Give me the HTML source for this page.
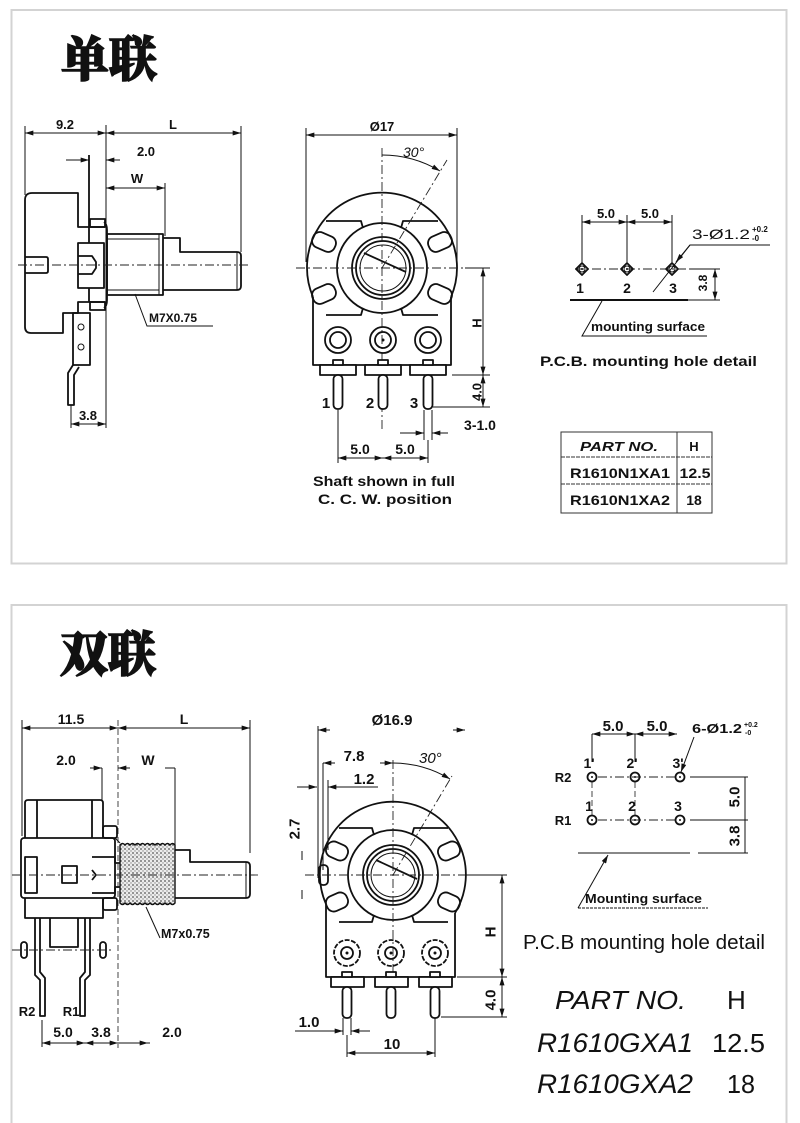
<!DOCTYPE html>
<html><head><meta charset="utf-8"><title>R1610 potentiometer drawing</title>
<style>
html,body{margin:0;padding:0;background:#fff;width:800px;height:1123px;overflow:hidden}
svg{display:block}
text{font-family:"Liberation Sans",Arial,sans-serif;fill:#111}
.b{font-weight:bold}
.i{font-style:italic}
.m{text-anchor:middle}
.o{fill:none;stroke:#111;stroke-width:1.8;stroke-linejoin:round}
.f{fill:#fff;stroke:#111;stroke-width:1.8;stroke-linejoin:round}
.d{fill:none;stroke:#111;stroke-width:1}
.c{fill:none;stroke:#222;stroke-width:0.9;stroke-dasharray:9 3 2 3}
.h{fill:none;stroke:#333;stroke-width:0.9;stroke-dasharray:6 3}
.ar{marker-start:url(#a);marker-end:url(#a)}
.ae{marker-end:url(#a)}
.cj{font-family:"Noto Serif CJK SC","Noto Sans CJK SC",serif;font-weight:900;stroke:#111;stroke-width:1.6;paint-order:stroke}
</style></head><body>
<svg width="800" height="1123" viewBox="0 0 800 1123" xmlns="http://www.w3.org/2000/svg">
<defs>
<marker id="a" viewBox="0 0 10 6" refX="10" refY="3" markerWidth="9" markerHeight="5" markerUnits="userSpaceOnUse" orient="auto-start-reverse"><path d="M0,0L10,3L0,6z" fill="#111"/></marker>
<pattern id="st" width="4" height="4" patternUnits="userSpaceOnUse"><rect width="4" height="4" fill="#ececec"/><circle cx="1" cy="1" r="0.9" fill="#555"/><circle cx="3" cy="3" r="0.7" fill="#888"/></pattern>
</defs>

<!-- panels -->
<rect x="11.5" y="10" width="775" height="553.5" fill="none" stroke="#d3d3d3" stroke-width="2"/>
<path d="M11.5,1130 L11.5,605 L786.5,605 L786.5,1130" fill="none" stroke="#d3d3d3" stroke-width="2"/>

<!-- ================= TOP: 单联 ================= -->
<text x="61" y="76" font-size="48" class="cj">单联</text>

<!-- side view -->
<line x1="25" y1="133" x2="106" y2="133" class="d ar"/>
<line x1="106" y1="133" x2="241" y2="133" class="d ar"/>
<text x="65" y="129" font-size="13" class="b m">9.2</text>
<text x="173" y="129" font-size="13" class="b m">L</text>
<line x1="25" y1="126" x2="25" y2="195" class="d"/>
<line x1="106" y1="125" x2="106" y2="428" class="d"/>
<line x1="241" y1="126" x2="241" y2="252" class="d"/>
<line x1="66" y1="160" x2="89" y2="160" class="d ae"/>
<line x1="120" y1="160" x2="106" y2="160" class="d ae"/>
<text x="146" y="156" font-size="13" class="b m">2.0</text>
<line x1="89" y1="155" x2="89" y2="227" class="o"/>
<line x1="106" y1="188" x2="165" y2="188" class="d ar"/>
<text x="137" y="183" font-size="13" class="b m">W</text>
<line x1="165" y1="183" x2="165" y2="236" class="d"/>

<path class="o" d="M32,193 L78,193 L78,227 L105,227 M32,193 Q25,193 25,200 L25,327 Q25,333 31,333 L63,333 L63,313 L78,313 L78,302 L105,302"/>
<path class="o" d="M25,257 L46,257 Q48,257 48,259 L48,271 Q48,273 46,273 L25,273"/>
<rect x="78" y="243" width="26" height="45" class="o"/>
<path class="o" d="M78,256 L92,256 L96,262 L96,268 L92,274 L78,274"/>
<line x1="89" y1="227" x2="89" y2="243" class="o"/>
<line x1="89" y1="288" x2="89" y2="302" class="o"/>
<path class="o" d="M104,222 Q107,224 107,230 L107,300 Q107,306 104,308"/>
<rect x="90" y="219" width="15" height="8" class="o"/>
<rect x="90" y="302" width="15" height="8" class="o"/>
<rect x="107" y="234" width="56" height="61" class="o"/>
<line x1="107" y1="239" x2="159" y2="239" class="d"/>
<line x1="107" y1="290" x2="159" y2="290" class="d"/>
<line x1="159" y1="234" x2="159" y2="295" class="d"/>
<path class="o" d="M163,238 L180,238 L180,252 L237,252 Q241,252 241,256 L241,286 Q241,290 237,290 L163,290"/>
<line x1="237" y1="252" x2="237" y2="290" class="d"/>
<rect x="73" y="313" width="17" height="52" class="o"/>
<circle cx="81" cy="327" r="3" class="d"/>
<circle cx="81" cy="347" r="3" class="d"/>
<path class="o" d="M73,365 L68,373 L68,405 L74,405 L74,375 L79,367"/>
<line x1="18" y1="265" x2="248" y2="265" class="c"/>
<polyline points="135,294 147,326 213,326" class="d"/>
<text x="149" y="322" font-size="12" class="b">M7X0.75</text>
<line x1="71" y1="405" x2="71" y2="428" class="d"/>
<line x1="71" y1="424" x2="106" y2="424" class="d ar"/>
<text x="88" y="420" font-size="13" class="b m">3.8</text>

<!-- front view -->
<line x1="306" y1="135" x2="457" y2="135" class="d ar"/>
<text x="382" y="131" font-size="13" class="b m">Ø17</text>
<line x1="306" y1="128" x2="306" y2="262" class="d"/>
<line x1="457" y1="128" x2="457" y2="262" class="d"/>
<path class="o" d="M313,297 A75,75 0 1 1 451,297"/>
<path class="o" d="M313,297 L313,365 L451,365 L451,297"/>
<circle cx="382" cy="268" r="45" class="o"/>
<path class="o" d="M326,221 L361,221 L363,228 M438,221 L403,221 L401,228 M326,315 L361,315 L363,308 M438,315 L403,315 L401,308"/>
<rect x="-12" y="-8" width="24" height="16" rx="7" class="o" transform="translate(324,242) rotate(24)"/>
<rect x="-12" y="-8" width="24" height="16" rx="7" class="o" transform="translate(324,294) rotate(-24)"/>
<rect x="-12" y="-8" width="24" height="16" rx="7" class="o" transform="translate(440,242) rotate(-24)"/>
<rect x="-12" y="-8" width="24" height="16" rx="7" class="o" transform="translate(440,294) rotate(24)"/>
<circle cx="383" cy="268" r="31" class="o"/>
<circle cx="383" cy="268" r="27" class="o"/>
<circle cx="383" cy="268" r="23" class="d"/>
<line x1="364" y1="253" x2="406" y2="272" stroke="#111" stroke-width="1.8"/>
<line x1="382" y1="148" x2="382" y2="432" class="c"/>
<line x1="296" y1="268" x2="470" y2="268" class="c"/>
<line x1="465" y1="268" x2="490" y2="268" class="d"/>
<path d="M382,155 A113,113 0 0 1 440,171" class="d ae"/>
<line x1="382" y1="268" x2="447" y2="160" class="c"/>
<text x="403" y="157" font-size="14" class="i">30°</text>
<g class="o">
<circle cx="338" cy="340" r="13"/><circle cx="338" cy="340" r="8"/>
<circle cx="383" cy="340" r="13"/><circle cx="383" cy="340" r="8"/>
<circle cx="428" cy="340" r="13"/><circle cx="428" cy="340" r="8"/>
</g>
<circle cx="383" cy="340" r="1.5" fill="#111"/>
<g class="f">
<rect x="320" y="365" width="36" height="10"/><rect x="365" y="365" width="36" height="10"/><rect x="410" y="365" width="36" height="10"/>
<rect x="333" y="360" width="10" height="5"/><rect x="378" y="360" width="10" height="5"/><rect x="423" y="360" width="10" height="5"/>
<rect x="333.5" y="375" width="9" height="34" rx="4"/><rect x="378.5" y="375" width="9" height="34" rx="4"/><rect x="423.5" y="375" width="9" height="34" rx="4"/>
</g>
<text x="326" y="408" font-size="15" class="b m">1</text>
<text x="370" y="408" font-size="15" class="b m">2</text>
<text x="414" y="408" font-size="15" class="b m">3</text>
<line x1="483" y1="268" x2="483" y2="375" class="d ar"/>
<line x1="452" y1="375" x2="490" y2="375" class="d"/>
<text transform="translate(477,323) rotate(-90)" font-size="13" class="b m" dy=".35em">H</text>
<line x1="483" y1="375" x2="483" y2="407" class="d ar"/>
<line x1="433" y1="407" x2="490" y2="407" class="d"/>
<text transform="translate(477,392) rotate(-90)" font-size="13" class="b m" dy=".35em">4.0</text>
<line x1="424" y1="410" x2="424" y2="440" class="d"/>
<line x1="432" y1="410" x2="432" y2="440" class="d"/>
<line x1="400" y1="433" x2="424" y2="433" class="d ae"/>
<line x1="448" y1="433" x2="432" y2="433" class="d ae"/>
<text x="480" y="430" font-size="14" class="b m">3-1.0</text>
<line x1="338" y1="410" x2="338" y2="463" class="d"/>
<line x1="428" y1="440" x2="428" y2="463" class="d"/>
<line x1="338" y1="458" x2="383" y2="458" class="d ar"/>
<line x1="383" y1="458" x2="428" y2="458" class="d ar"/>
<text x="360" y="454" font-size="14" class="b m">5.0</text>
<text x="405" y="454" font-size="14" class="b m">5.0</text>
<text x="384" y="486" font-size="14" class="b m" textLength="142" lengthAdjust="spacingAndGlyphs">Shaft shown in full</text>
<text x="385" y="504" font-size="14" class="b m" textLength="134" lengthAdjust="spacingAndGlyphs">C. C. W.  position</text>

<!-- PCB detail top -->
<line x1="582" y1="222" x2="627" y2="222" class="d ar"/>
<line x1="627" y1="222" x2="672" y2="222" class="d ar"/>
<text x="606" y="218" font-size="13" class="b m">5.0</text>
<text x="650" y="218" font-size="13" class="b m">5.0</text>
<line x1="582" y1="215" x2="582" y2="262" class="d"/>
<line x1="627" y1="215" x2="627" y2="262" class="d"/>
<line x1="672" y1="215" x2="672" y2="262" class="d"/>
<line x1="575" y1="269" x2="700" y2="269" class="c"/>
<g class="o" stroke-width="1.4">
<path d="M582,263 L588,269 L582,275 L576,269z"/><path d="M627,263 L633,269 L627,275 L621,269z"/><path d="M672,263 L678,269 L672,275 L666,269z"/>
</g>
<circle cx="582" cy="269" r="3" class="d"/><circle cx="627" cy="269" r="3" class="d"/><circle cx="672" cy="269" r="3" class="d"/>
<circle cx="582" cy="269" r="1" fill="#111"/><circle cx="627" cy="269" r="1" fill="#111"/>
<text x="580" y="293" font-size="14" class="b m">1</text>
<text x="627" y="293" font-size="14" class="b m">2</text>
<text x="673" y="293" font-size="14" class="b m">3</text>
<line x1="690" y1="269" x2="720" y2="269" class="d"/>
<line x1="715" y1="269" x2="715" y2="300" class="d ar"/>
<text transform="translate(703,283) rotate(-90)" font-size="12" class="b m" dy=".35em">3.8</text>
<line x1="570" y1="300" x2="688" y2="300" stroke="#111" stroke-width="2"/>
<line x1="688" y1="300" x2="720" y2="300" class="d"/>
<polyline points="602,301 582,336 707,336" class="d"/>
<text x="591" y="331" font-size="12.5" class="b" textLength="114" lengthAdjust="spacingAndGlyphs">mounting surface</text>
<path d="M653,292 L690,245 L770,245" class="d"/>
<line x1="690" y1="245" x2="676" y2="262" class="d ae"/>
<text x="692" y="239" font-size="14" textLength="58" lengthAdjust="spacingAndGlyphs">3-Ø1.2</text>
<text x="752" y="232" font-size="8" class="b">+0.2</text>
<text x="752" y="241" font-size="8" class="b">-0</text>
<text x="540" y="366" font-size="14" class="b" textLength="217" lengthAdjust="spacingAndGlyphs">P.C.B.  mounting hole detail</text>
<g stroke="#333" stroke-width="1" fill="none">
<rect x="561" y="432" width="151" height="81"/>
<line x1="677" y1="432" x2="677" y2="513"/>
<line x1="561" y1="457" x2="712" y2="457" stroke-dasharray="4 1"/>
<line x1="561" y1="484" x2="712" y2="484" stroke-dasharray="4 1"/>
</g>
<text x="619" y="451" font-size="13" class="b i m" textLength="78" lengthAdjust="spacingAndGlyphs">PART NO.</text>
<text x="694" y="451" font-size="13" class="b m">H</text>
<text x="620" y="478" font-size="14" class="b m" textLength="100" lengthAdjust="spacingAndGlyphs">R1610N1XA1</text>
<text x="695" y="478" font-size="14" class="b m" textLength="31" lengthAdjust="spacingAndGlyphs">12.5</text>
<text x="620" y="505" font-size="14" class="b m" textLength="100" lengthAdjust="spacingAndGlyphs">R1610N1XA2</text>
<text x="694" y="505" font-size="14" class="b m">18</text>

<!-- ================= BOTTOM: 双联 ================= -->
<text x="60" y="671" font-size="48" class="cj">双联</text>

<!-- side view -->
<line x1="22" y1="728" x2="118" y2="728" class="d ar"/>
<line x1="118" y1="728" x2="250" y2="728" class="d ar"/>
<text x="71" y="724" font-size="14" class="b m">11.5</text>
<text x="184" y="724" font-size="14" class="b m">L</text>
<line x1="22" y1="720" x2="22" y2="836" class="d"/>
<line x1="118" y1="720" x2="118" y2="1048" class="h"/>
<line x1="250" y1="720" x2="250" y2="853" class="d"/>
<text x="66" y="765" font-size="14" class="b m">2.0</text>
<text x="148" y="765" font-size="14" class="b m">W</text>
<line x1="90" y1="768" x2="102" y2="768" class="d ae"/>
<line x1="130" y1="768" x2="118" y2="768" class="d ae"/>
<line x1="165" y1="768" x2="175" y2="768" class="d"/>
<line x1="102" y1="768" x2="102" y2="800" class="d"/>
<line x1="175" y1="768" x2="175" y2="853" class="d"/>

<path class="o" d="M25,838 L25,803 Q25,800 28,800 L100,800 Q103,800 103,803 L103,838"/>
<line x1="37" y1="800" x2="37" y2="838" class="o"/>
<line x1="92" y1="800" x2="92" y2="838" class="o"/>
<rect x="21" y="838" width="94" height="60" rx="3" class="o"/>
<rect x="25" y="857" width="12" height="36" class="o"/>
<rect x="62" y="866" width="15" height="17" class="o"/>
<path class="o" d="M92,857 L115,857 L115,863 L135,863 Q137,863 137,865 L137,885 Q137,887 135,887 L115,887 L115,893 L92,893"/>
<path class="o" d="M92,870 L96,875 L92,880"/>
<path class="o" d="M25,898 L25,918 L103,918 L103,898"/>
<path class="o" d="M50,918 L50,947 L78,947 L78,918"/>
<rect x="103" y="826" width="14" height="12" rx="2" class="o"/>
<rect x="103" y="898" width="14" height="12" rx="2" class="o"/>
<line x1="115" y1="838" x2="120" y2="843" class="d"/>
<path d="M120,845 q2.5,-3 5,0 q2.5,-3 5,0 q2.5,-3 5,0 q2.5,-3 5,0 q2.5,-3 5,0 q2.5,-3 5,0 q2.5,-3 5,0 q2.5,-3 5,0 q2.5,-3 5,0 q2.5,-3 5,0 q2.5,-3 5,0 L175,903 q-2.5,3 -5,0 q-2.5,3 -5,0 q-2.5,3 -5,0 q-2.5,3 -5,0 q-2.5,3 -5,0 q-2.5,3 -5,0 q-2.5,3 -5,0 q-2.5,3 -5,0 q-2.5,3 -5,0 q-2.5,3 -5,0 q-2.5,3 -5,0 z" fill="url(#st)" stroke="#111" stroke-width="1.4"/>
<path class="o" d="M175,850 L190,850 L190,862 L246,862 Q250,862 250,866 L250,894 Q250,898 246,898 L175,898"/>
<line x1="246" y1="862" x2="246" y2="898" class="d"/>
<line x1="12" y1="875" x2="258" y2="875" class="c"/>
<path class="o" d="M35,918 L35,975 L40,980 L40,1016 L45,1016 L45,978 L40,972 L40,918"/>
<path class="o" d="M90,918 L90,975 L85,980 L85,1016 L80,1016 L80,978 L85,972 L85,918"/>
<rect x="21" y="942" width="6" height="16" rx="3" class="o"/>
<rect x="100" y="942" width="6" height="16" rx="3" class="o"/>
<line x1="12" y1="950" x2="112" y2="950" class="c"/>
<polyline points="146,907 160,938" class="d"/>
<text x="161" y="938" font-size="12.5" class="b">M7x0.75</text>
<text x="27" y="1016" font-size="13" class="b m">R2</text>
<text x="71" y="1016" font-size="13" class="b m">R1</text>
<line x1="42" y1="1020" x2="42" y2="1047" class="d"/>
<line x1="42" y1="1043" x2="150" y2="1043" class="d"/>
<line x1="55" y1="1043" x2="42" y2="1043" class="d ae"/>
<line x1="72" y1="1043" x2="85" y2="1043" class="d ae"/>
<line x1="98" y1="1043" x2="85" y2="1043" class="d ae"/>
<line x1="106" y1="1043" x2="118" y2="1043" class="d ae"/>
<line x1="135" y1="1043" x2="148" y2="1043" class="d ae"/>
<text x="63" y="1037" font-size="14" class="b m">5.0</text>
<text x="101" y="1037" font-size="14" class="b m">3.8</text>
<text x="172" y="1037" font-size="14" class="b m">2.0</text>

<!-- front view -->
<text x="392" y="725" font-size="15" class="b m">Ø16.9</text>
<line x1="330" y1="730" x2="318" y2="730" class="d ae"/>
<line x1="453" y1="730" x2="465" y2="730" class="d ae"/>
<line x1="318" y1="726" x2="318" y2="878" class="d"/>
<line x1="323" y1="763" x2="323" y2="870" class="d"/>
<line x1="335" y1="763" x2="323" y2="763" class="d ae"/>
<line x1="380" y1="763" x2="393" y2="763" class="d ae"/>
<text x="354" y="761" font-size="15" class="b m">7.8</text>
<line x1="297" y1="787" x2="317" y2="787" class="d ae"/>
<line x1="378" y1="787" x2="328" y2="787" class="d ae"/>
<line x1="328" y1="780" x2="328" y2="850" class="d"/>
<text x="364" y="784" font-size="15" class="b m">1.2</text>
<text transform="translate(294,829) rotate(-90)" font-size="15" class="b m" dy=".35em">2.7</text>
<line x1="302" y1="851" x2="302" y2="860" class="d"/>
<line x1="302" y1="890" x2="302" y2="899" class="d"/>
<path d="M393,763 A112,112 0 0 1 450,779" class="d ae"/>
<line x1="393" y1="875" x2="452" y2="776" class="c"/>
<text x="419" y="763" font-size="15" class="i">30°</text>
<path class="o" d="M326,904 A73,73 0 1 1 455,913"/>
<path class="o" d="M326,904 L326,977 L455,977 L455,913"/>
<circle cx="393" cy="875" r="45" class="o"/>
<path class="o" d="M339,828 L372,828 L374,835 M448,828 L414,828 L412,835 M339,922 L372,922 L374,915 M448,922 L414,922 L412,915"/>
<rect x="-11" y="-8" width="22" height="16" rx="7" class="o" transform="translate(337,851) rotate(24)"/>
<rect x="-11" y="-8" width="22" height="16" rx="7" class="o" transform="translate(337,902) rotate(-24)"/>
<rect x="-11" y="-8" width="22" height="16" rx="7" class="o" transform="translate(449,851) rotate(-24)"/>
<rect x="-11" y="-8" width="22" height="16" rx="7" class="o" transform="translate(449,902) rotate(24)"/>
<rect x="319" y="865" width="9" height="20" rx="4" class="o"/>
<circle cx="393" cy="875" r="30" class="o"/>
<circle cx="393" cy="875" r="26" class="o"/>
<circle cx="393" cy="875" r="22" class="d"/>
<line x1="376" y1="860" x2="417" y2="879" stroke="#111" stroke-width="1.8"/>
<line x1="393" y1="760" x2="393" y2="1000" class="c"/>
<line x1="305" y1="875" x2="470" y2="875" class="c"/>
<g class="o">
<circle cx="347" cy="953" r="13" stroke-dasharray="5 1.5"/><circle cx="347" cy="953" r="6"/>
<circle cx="391" cy="953" r="13" stroke-dasharray="5 1.5"/><circle cx="391" cy="953" r="6"/>
<circle cx="435" cy="953" r="13" stroke-dasharray="5 1.5"/><circle cx="435" cy="953" r="6"/>
</g>
<circle cx="347" cy="953" r="1.5" fill="#111"/><circle cx="391" cy="953" r="1.5" fill="#111"/><circle cx="435" cy="953" r="1.5" fill="#111"/>
<g class="f">
<rect x="331" y="977" width="33" height="10"/><rect x="375" y="977" width="33" height="10"/><rect x="419" y="977" width="33" height="10"/>
<rect x="342" y="972" width="10" height="5"/><rect x="386" y="972" width="10" height="5"/><rect x="430" y="972" width="10" height="5"/>
<rect x="342.5" y="987" width="9" height="31" rx="4"/><rect x="386.5" y="987" width="9" height="31" rx="4"/><rect x="430.5" y="987" width="9" height="31" rx="4"/>
</g>
<line x1="502" y1="875" x2="502" y2="977" class="d ar"/>
<line x1="465" y1="875" x2="507" y2="875" class="d"/>
<line x1="457" y1="977" x2="507" y2="977" class="d"/>
<text transform="translate(490,932) rotate(-90)" font-size="15" class="b m" dy=".35em">H</text>
<line x1="502" y1="977" x2="502" y2="1017" class="d ar"/>
<line x1="441" y1="1017" x2="507" y2="1017" class="d"/>
<text transform="translate(490,1000) rotate(-90)" font-size="15" class="b m" dy=".35em">4.0</text>
<line x1="343" y1="1018" x2="343" y2="1035" class="d"/>
<line x1="351" y1="1018" x2="351" y2="1035" class="d"/>
<line x1="295" y1="1031" x2="343" y2="1031" class="d ae"/>
<line x1="370" y1="1031" x2="351" y2="1031" class="d ae"/>
<text x="309" y="1027" font-size="15" class="b m">1.0</text>
<line x1="347" y1="1035" x2="347" y2="1057" class="d"/>
<line x1="435" y1="1018" x2="435" y2="1057" class="d"/>
<line x1="347" y1="1053" x2="435" y2="1053" class="d ar"/>
<text x="392" y="1049" font-size="15" class="b m">10</text>

<!-- PCB detail bottom -->
<text x="613" y="731" font-size="15" class="b m">5.0</text>
<text x="657" y="731" font-size="15" class="b m">5.0</text>
<line x1="592" y1="734" x2="677" y2="734" class="d"/>
<line x1="602" y1="734" x2="592" y2="734" class="d ae"/>
<line x1="625" y1="734" x2="635" y2="734" class="d ae"/>
<line x1="645" y1="734" x2="635" y2="734" class="d ae"/>
<line x1="667" y1="734" x2="677" y2="734" class="d ae"/>
<line x1="592" y1="734" x2="592" y2="762" class="d"/>
<line x1="635" y1="734" x2="635" y2="762" class="d"/>
<text x="692" y="733" font-size="13" class="b" textLength="50" lengthAdjust="spacingAndGlyphs">6-Ø1.2</text>
<text x="744" y="727" font-size="7" class="b">+0.2</text>
<text x="745" y="735" font-size="7" class="b">-0</text>
<line x1="694" y1="737" x2="681" y2="772" class="d ae"/>
<line x1="598" y1="777" x2="675" y2="777" class="c"/>
<line x1="598" y1="820" x2="675" y2="820" class="c"/>
<line x1="592" y1="782" x2="592" y2="815" class="h"/>
<line x1="635" y1="782" x2="635" y2="815" class="h"/>
<g class="o" stroke-width="1.3">
<circle cx="592" cy="777" r="4.5"/><circle cx="635" cy="777" r="4.5"/><circle cx="680" cy="777" r="4.5"/>
<circle cx="592" cy="820" r="4.5"/><circle cx="635" cy="820" r="4.5"/><circle cx="680" cy="820" r="4.5"/>
</g>
<g fill="#111"><circle cx="592" cy="777" r="1"/><circle cx="635" cy="777" r="1"/><circle cx="680" cy="777" r="1"/><circle cx="592" cy="820" r="1"/><circle cx="635" cy="820" r="1"/><circle cx="680" cy="820" r="1"/></g>
<text x="589" y="768" font-size="14" class="b m">1'</text>
<text x="632" y="768" font-size="14" class="b m">2'</text>
<text x="678" y="768" font-size="14" class="b m">3'</text>
<text x="589" y="811" font-size="14" class="b m">1</text>
<text x="632" y="811" font-size="14" class="b m">2</text>
<text x="678" y="811" font-size="14" class="b m">3</text>
<text x="563" y="782" font-size="13" class="b m">R2</text>
<text x="563" y="825" font-size="13" class="b m">R1</text>
<line x1="690" y1="777" x2="748" y2="777" class="d"/>
<line x1="690" y1="820" x2="748" y2="820" class="d"/>
<line x1="698" y1="853" x2="748" y2="853" class="d"/>
<line x1="745" y1="777" x2="745" y2="820" class="d"/>
<line x1="745" y1="820" x2="745" y2="853" class="d"/>
<text transform="translate(734,797) rotate(-90)" font-size="15" class="b m" dy=".35em">5.0</text>
<text transform="translate(734,836) rotate(-90)" font-size="15" class="b m" dy=".35em">3.8</text>
<line x1="578" y1="853" x2="690" y2="853" class="d"/>
<line x1="578" y1="908" x2="608" y2="855" class="d ae"/>
<line x1="578" y1="908" x2="708" y2="908" class="d" stroke-dasharray="3 1"/>
<text x="585" y="903" font-size="13" class="b" textLength="117" lengthAdjust="spacingAndGlyphs">Mounting surface</text>
<text x="523" y="949" font-size="20" textLength="242" lengthAdjust="spacingAndGlyphs">P.C.B mounting hole detail</text>
<text x="555" y="1009" font-size="26" class="i" textLength="131" lengthAdjust="spacingAndGlyphs">PART NO.</text>
<text x="727" y="1009" font-size="26">H</text>
<text x="537" y="1052" font-size="27" class="i" textLength="156" lengthAdjust="spacingAndGlyphs">R1610GXA1</text>
<text x="712" y="1052" font-size="26" textLength="53" lengthAdjust="spacingAndGlyphs">12.5</text>
<text x="537" y="1093" font-size="27" class="i" textLength="156" lengthAdjust="spacingAndGlyphs">R1610GXA2</text>
<text x="727" y="1093" font-size="26" textLength="28" lengthAdjust="spacingAndGlyphs">18</text>
</svg>
</body></html>
